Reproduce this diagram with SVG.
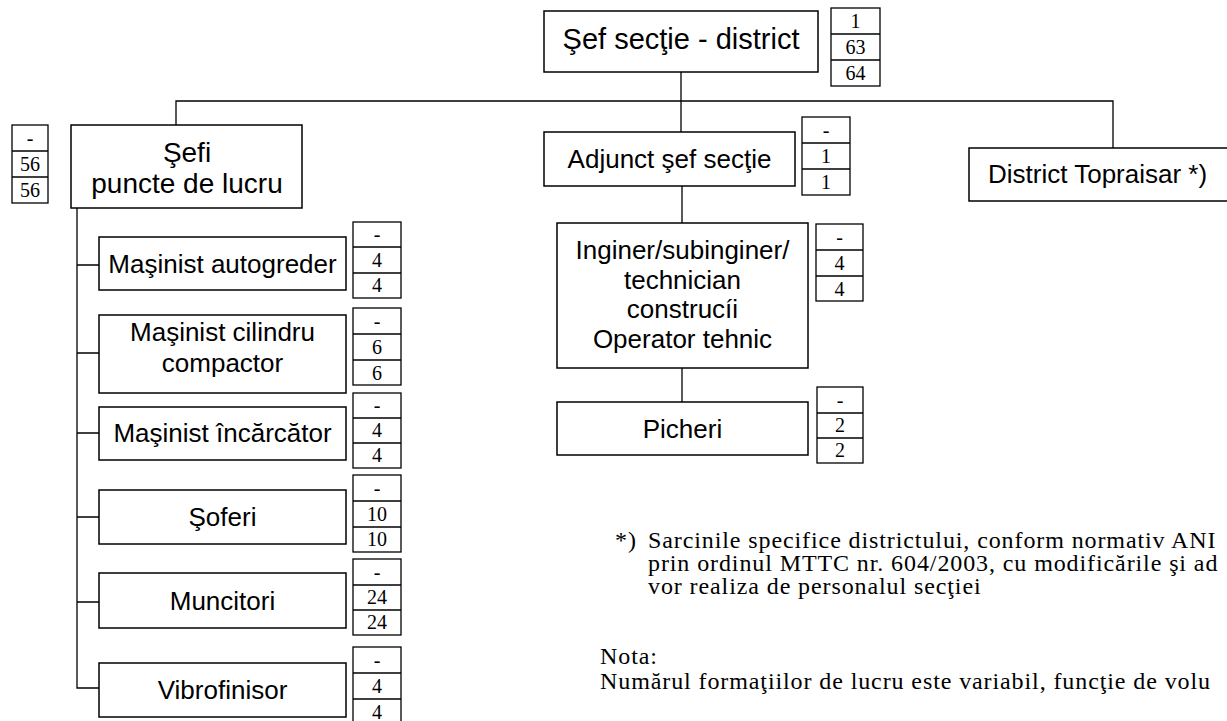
<svg xmlns="http://www.w3.org/2000/svg" width="1227" height="721" viewBox="0 0 1227 721">
<style>
.box{fill:#fff;stroke:#000;stroke-width:1.5}
.cnt{fill:#fff;stroke:#000;stroke-width:1.3}
.ln{fill:none;stroke:#000;stroke-width:1.3}
.lbl{font-family:"Liberation Sans",Arial,sans-serif;font-size:26px;fill:#000;text-anchor:middle}
.num{font-family:"Liberation Serif","Times New Roman",serif;font-size:20px;fill:#000;text-anchor:middle}
.note{font-family:"Liberation Serif","Times New Roman",serif;font-size:24px;letter-spacing:0.9px;fill:#000}
</style>
<rect width="1227" height="721" fill="#fff"/>
<g id="connectors">
<path class="ln" d="M681,72 V132 M176,125 V101 H1113 V148 M682,186 V223 M682,368 V402"/>
<path class="ln" d="M77,208 V688 H99 M77,265 H99 M77,353 H99 M77,433 H99 M77,517 H99 M77,602 H99"/>
</g>
<g id="sef-sectie">
<rect class="box" x="544" y="11" width="274" height="61"/>
<text class="lbl" x="681" y="49" style="font-size:29px">Şef secţie - district</text>
<rect class="cnt" x="831" y="8" width="49" height="78"/>
<path class="ln" d="M831,34 H880 M831,60 H880"/>
<text class="num" x="855.5" y="28">1</text><text class="num" x="855.5" y="54">63</text><text class="num" x="855.5" y="80">64</text>
</g>
<g id="sefi-puncte">
<rect class="box" x="71" y="125" width="231" height="83"/>
<text class="lbl" x="187" y="162" style="font-size:28px">Şefi</text>
<text class="lbl" x="187" y="193" style="font-size:28px">puncte de lucru</text>
<rect class="cnt" x="12" y="125" width="36" height="78"/>
<path class="ln" d="M12,151 H48 M12,177 H48"/>
<text class="num" x="30" y="145">-</text><text class="num" x="30" y="171">56</text><text class="num" x="30" y="197">56</text>
</g>
<g id="adjunct">
<rect class="box" x="544" y="132" width="251" height="54"/>
<text class="lbl" x="669.5" y="168">Adjunct şef secţie</text>
<rect class="cnt" x="802" y="117" width="48" height="78"/>
<path class="ln" d="M802,143 H850 M802,169 H850"/>
<text class="num" x="826" y="137">-</text><text class="num" x="826" y="163">1</text><text class="num" x="826" y="189">1</text>
</g>
<g id="inginer">
<rect class="box" x="557" y="223" width="251" height="145"/>
<text class="lbl" x="682.5" y="259">Inginer/subinginer/</text>
<text class="lbl" x="682.5" y="289">technician</text>
<text class="lbl" x="682.5" y="318">construcíi</text>
<text class="lbl" x="682.5" y="348">Operator tehnic</text>
<rect class="cnt" x="816" y="224" width="47" height="77"/>
<path class="ln" d="M816,250 H863 M816,276 H863"/>
<text class="num" x="839.5" y="244">-</text><text class="num" x="839.5" y="270">4</text><text class="num" x="839.5" y="296">4</text>
</g>
<g id="picheri">
<rect class="box" x="557" y="402" width="251" height="53"/>
<text class="lbl" x="682.5" y="438">Picheri</text>
<rect class="cnt" x="817" y="387" width="46" height="76"/>
<path class="ln" d="M817,413 H863 M817,438 H863"/>
<text class="num" x="840" y="407">-</text><text class="num" x="840" y="432">2</text><text class="num" x="840" y="457">2</text>
</g>
<g id="district">
<rect class="box" x="969" y="148" width="280" height="53"/>
<text class="lbl" x="988" y="183" style="text-anchor:start">District Topraisar *)</text>
</g>
<g id="autogreder">
<rect class="box" x="99" y="237" width="247" height="53"/>
<text class="lbl" x="222.5" y="273">Maşinist autogreder</text>
<rect class="cnt" x="353" y="222" width="48" height="76"/>
<path class="ln" d="M353,247 H401 M353,273 H401"/>
<text class="num" x="377" y="241">-</text><text class="num" x="377" y="267">4</text><text class="num" x="377" y="292">4</text>
</g>
<g id="cilindru">
<rect class="box" x="99" y="315" width="247" height="78"/>
<text class="lbl" x="222.5" y="341">Maşinist cilindru</text>
<text class="lbl" x="222.5" y="372">compactor</text>
<rect class="cnt" x="353" y="308" width="48" height="77"/>
<path class="ln" d="M353,334 H401 M353,360 H401"/>
<text class="num" x="377" y="328">-</text><text class="num" x="377" y="354">6</text><text class="num" x="377" y="380">6</text>
</g>
<g id="incarcator">
<rect class="box" x="99" y="407" width="247" height="53"/>
<text class="lbl" x="222.5" y="442">Maşinist încărcător</text>
<rect class="cnt" x="353" y="393" width="48" height="75"/>
<path class="ln" d="M353,418 H401 M353,443 H401"/>
<text class="num" x="377" y="412">-</text><text class="num" x="377" y="437">4</text><text class="num" x="377" y="462">4</text>
</g>
<g id="soferi">
<rect class="box" x="99" y="490" width="247" height="54"/>
<text class="lbl" x="222.5" y="526">Şoferi</text>
<rect class="cnt" x="353" y="475" width="48" height="77"/>
<path class="ln" d="M353,501 H401 M353,527 H401"/>
<text class="num" x="377" y="495">-</text><text class="num" x="377" y="521">10</text><text class="num" x="377" y="546">10</text>
</g>
<g id="muncitori">
<rect class="box" x="99" y="573" width="247" height="55"/>
<text class="lbl" x="222.5" y="610">Muncitori</text>
<rect class="cnt" x="353" y="559" width="48" height="76"/>
<path class="ln" d="M353,585 H401 M353,610 H401"/>
<text class="num" x="377" y="579">-</text><text class="num" x="377" y="604">24</text><text class="num" x="377" y="629">24</text>
</g>
<g id="vibrofinisor">
<rect class="box" x="99" y="663" width="247" height="54"/>
<text class="lbl" x="222.5" y="699">Vibrofinisor</text>
<rect class="cnt" x="353" y="647" width="48" height="78"/>
<path class="ln" d="M353,673 H401 M353,699 H401"/>
<text class="num" x="377" y="667">-</text><text class="num" x="377" y="693">4</text><text class="num" x="377" y="719">4</text>
</g>
<g id="notes">
<text class="note" x="615" y="548">*)</text>
<text class="note" x="648" y="548">Sarcinile specifice districtului, conform normativ ANI</text>
<text class="note" x="648" y="571">prin ordinul MTTC nr. 604/2003, cu modificările şi ad</text>
<text class="note" x="648" y="594">vor realiza de personalul secţiei</text>
<text class="note" x="600" y="664">Nota:</text>
<text class="note" x="600" y="689">Numărul formaţiilor de lucru este variabil, funcţie de volu</text>
</g>
</svg>
